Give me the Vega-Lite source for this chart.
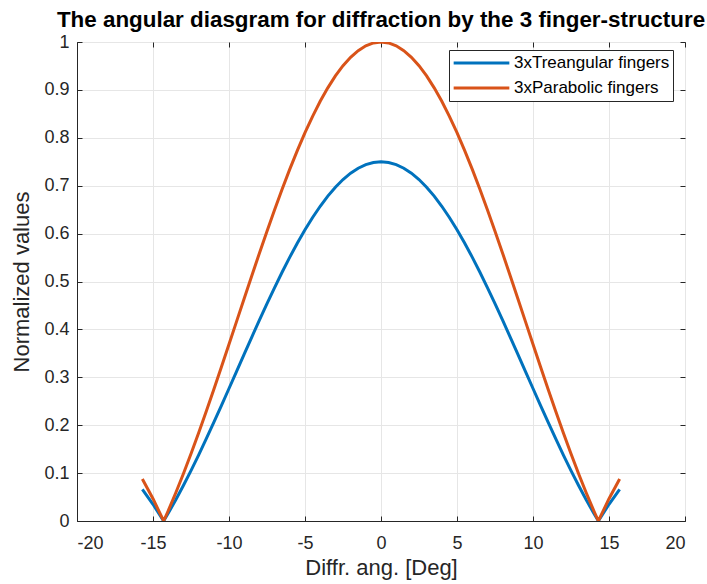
{
  "$schema": "https://vega.github.io/schema/vega-lite/v6.json",
  "width": 608,
  "height": 479,
  "autosize": {"type": "none"},
  "padding": {"left": 77, "top": 42, "right": 22, "bottom": 63},
  "background": "white",
  "config": {
    "font": "Liberation Sans",
    "view": {"stroke": "#262626", "strokeWidth": 1},
    "axis": {
      "domainColor": "#262626",
      "tickColor": "#262626",
      "labelColor": "#262626",
      "titleColor": "#262626",
      "gridColor": "#e6e6e6",
      "labelFont": "Liberation Sans",
      "titleFont": "Liberation Sans",
      "labelFontSize": 18,
      "titleFontSize": 22,
      "titleFontWeight": "normal"
    }
  },
  "title": {
    "text": "The angular diasgram for diffraction by the 3 finger-structure",
    "font": "Liberation Sans",
    "fontSize": 22.4,
    "fontWeight": "bold",
    "color": "#000000",
    "anchor": "middle",
    "offset": 2
  },
  "data": {
    "values": [
      {"x": -15.7, "y": 0.0658, "s": "3xTreangular fingers"},
      {"x": -15, "y": 0.0349, "s": "3xTreangular fingers"},
      {"x": -14.3, "y": 0, "s": "3xTreangular fingers"},
      {"x": -14, "y": 0.0161, "s": "3xTreangular fingers"},
      {"x": -13.5, "y": 0.0442, "s": "3xTreangular fingers"},
      {"x": -13, "y": 0.074, "s": "3xTreangular fingers"},
      {"x": -12.5, "y": 0.1052, "s": "3xTreangular fingers"},
      {"x": -12, "y": 0.1377, "s": "3xTreangular fingers"},
      {"x": -11.5, "y": 0.1713, "s": "3xTreangular fingers"},
      {"x": -11, "y": 0.2058, "s": "3xTreangular fingers"},
      {"x": -10.5, "y": 0.241, "s": "3xTreangular fingers"},
      {"x": -10, "y": 0.2766, "s": "3xTreangular fingers"},
      {"x": -9.5, "y": 0.3125, "s": "3xTreangular fingers"},
      {"x": -9, "y": 0.3484, "s": "3xTreangular fingers"},
      {"x": -8.5, "y": 0.3841, "s": "3xTreangular fingers"},
      {"x": -8, "y": 0.4193, "s": "3xTreangular fingers"},
      {"x": -7.5, "y": 0.4538, "s": "3xTreangular fingers"},
      {"x": -7, "y": 0.4874, "s": "3xTreangular fingers"},
      {"x": -6.5, "y": 0.5199, "s": "3xTreangular fingers"},
      {"x": -6, "y": 0.5509, "s": "3xTreangular fingers"},
      {"x": -5.5, "y": 0.5804, "s": "3xTreangular fingers"},
      {"x": -5, "y": 0.608, "s": "3xTreangular fingers"},
      {"x": -4.5, "y": 0.6337, "s": "3xTreangular fingers"},
      {"x": -4, "y": 0.6571, "s": "3xTreangular fingers"},
      {"x": -3.5, "y": 0.6782, "s": "3xTreangular fingers"},
      {"x": -3, "y": 0.6969, "s": "3xTreangular fingers"},
      {"x": -2.5, "y": 0.7129, "s": "3xTreangular fingers"},
      {"x": -2, "y": 0.7261, "s": "3xTreangular fingers"},
      {"x": -1.5, "y": 0.7365, "s": "3xTreangular fingers"},
      {"x": -1, "y": 0.744, "s": "3xTreangular fingers"},
      {"x": -0.5, "y": 0.7485, "s": "3xTreangular fingers"},
      {"x": 0, "y": 0.75, "s": "3xTreangular fingers"},
      {"x": 0.5, "y": 0.7485, "s": "3xTreangular fingers"},
      {"x": 1, "y": 0.744, "s": "3xTreangular fingers"},
      {"x": 1.5, "y": 0.7365, "s": "3xTreangular fingers"},
      {"x": 2, "y": 0.7261, "s": "3xTreangular fingers"},
      {"x": 2.5, "y": 0.7129, "s": "3xTreangular fingers"},
      {"x": 3, "y": 0.6969, "s": "3xTreangular fingers"},
      {"x": 3.5, "y": 0.6782, "s": "3xTreangular fingers"},
      {"x": 4, "y": 0.6571, "s": "3xTreangular fingers"},
      {"x": 4.5, "y": 0.6337, "s": "3xTreangular fingers"},
      {"x": 5, "y": 0.608, "s": "3xTreangular fingers"},
      {"x": 5.5, "y": 0.5804, "s": "3xTreangular fingers"},
      {"x": 6, "y": 0.5509, "s": "3xTreangular fingers"},
      {"x": 6.5, "y": 0.5199, "s": "3xTreangular fingers"},
      {"x": 7, "y": 0.4874, "s": "3xTreangular fingers"},
      {"x": 7.5, "y": 0.4538, "s": "3xTreangular fingers"},
      {"x": 8, "y": 0.4193, "s": "3xTreangular fingers"},
      {"x": 8.5, "y": 0.3841, "s": "3xTreangular fingers"},
      {"x": 9, "y": 0.3484, "s": "3xTreangular fingers"},
      {"x": 9.5, "y": 0.3125, "s": "3xTreangular fingers"},
      {"x": 10, "y": 0.2766, "s": "3xTreangular fingers"},
      {"x": 10.5, "y": 0.241, "s": "3xTreangular fingers"},
      {"x": 11, "y": 0.2058, "s": "3xTreangular fingers"},
      {"x": 11.5, "y": 0.1713, "s": "3xTreangular fingers"},
      {"x": 12, "y": 0.1377, "s": "3xTreangular fingers"},
      {"x": 12.5, "y": 0.1052, "s": "3xTreangular fingers"},
      {"x": 13, "y": 0.074, "s": "3xTreangular fingers"},
      {"x": 13.5, "y": 0.0442, "s": "3xTreangular fingers"},
      {"x": 14, "y": 0.0161, "s": "3xTreangular fingers"},
      {"x": 14.3, "y": 0, "s": "3xTreangular fingers"},
      {"x": 15, "y": 0.0349, "s": "3xTreangular fingers"},
      {"x": 15.7, "y": 0.0658, "s": "3xTreangular fingers"},
      {"x": -15.7, "y": 0.0878, "s": "3xParabolic fingers"},
      {"x": -15, "y": 0.0465, "s": "3xParabolic fingers"},
      {"x": -14.3, "y": 0, "s": "3xParabolic fingers"},
      {"x": -14, "y": 0.0214, "s": "3xParabolic fingers"},
      {"x": -13.5, "y": 0.0589, "s": "3xParabolic fingers"},
      {"x": -13, "y": 0.0986, "s": "3xParabolic fingers"},
      {"x": -12.5, "y": 0.1403, "s": "3xParabolic fingers"},
      {"x": -12, "y": 0.1836, "s": "3xParabolic fingers"},
      {"x": -11.5, "y": 0.2284, "s": "3xParabolic fingers"},
      {"x": -11, "y": 0.2744, "s": "3xParabolic fingers"},
      {"x": -10.5, "y": 0.3213, "s": "3xParabolic fingers"},
      {"x": -10, "y": 0.3688, "s": "3xParabolic fingers"},
      {"x": -9.5, "y": 0.4167, "s": "3xParabolic fingers"},
      {"x": -9, "y": 0.4646, "s": "3xParabolic fingers"},
      {"x": -8.5, "y": 0.5121, "s": "3xParabolic fingers"},
      {"x": -8, "y": 0.5591, "s": "3xParabolic fingers"},
      {"x": -7.5, "y": 0.6051, "s": "3xParabolic fingers"},
      {"x": -7, "y": 0.6499, "s": "3xParabolic fingers"},
      {"x": -6.5, "y": 0.6932, "s": "3xParabolic fingers"},
      {"x": -6, "y": 0.7346, "s": "3xParabolic fingers"},
      {"x": -5.5, "y": 0.7738, "s": "3xParabolic fingers"},
      {"x": -5, "y": 0.8107, "s": "3xParabolic fingers"},
      {"x": -4.5, "y": 0.8449, "s": "3xParabolic fingers"},
      {"x": -4, "y": 0.8762, "s": "3xParabolic fingers"},
      {"x": -3.5, "y": 0.9043, "s": "3xParabolic fingers"},
      {"x": -3, "y": 0.9292, "s": "3xParabolic fingers"},
      {"x": -2.5, "y": 0.9505, "s": "3xParabolic fingers"},
      {"x": -2, "y": 0.9681, "s": "3xParabolic fingers"},
      {"x": -1.5, "y": 0.982, "s": "3xParabolic fingers"},
      {"x": -1, "y": 0.992, "s": "3xParabolic fingers"},
      {"x": -0.5, "y": 0.998, "s": "3xParabolic fingers"},
      {"x": 0, "y": 1, "s": "3xParabolic fingers"},
      {"x": 0.5, "y": 0.998, "s": "3xParabolic fingers"},
      {"x": 1, "y": 0.992, "s": "3xParabolic fingers"},
      {"x": 1.5, "y": 0.982, "s": "3xParabolic fingers"},
      {"x": 2, "y": 0.9681, "s": "3xParabolic fingers"},
      {"x": 2.5, "y": 0.9505, "s": "3xParabolic fingers"},
      {"x": 3, "y": 0.9292, "s": "3xParabolic fingers"},
      {"x": 3.5, "y": 0.9043, "s": "3xParabolic fingers"},
      {"x": 4, "y": 0.8762, "s": "3xParabolic fingers"},
      {"x": 4.5, "y": 0.8449, "s": "3xParabolic fingers"},
      {"x": 5, "y": 0.8107, "s": "3xParabolic fingers"},
      {"x": 5.5, "y": 0.7738, "s": "3xParabolic fingers"},
      {"x": 6, "y": 0.7346, "s": "3xParabolic fingers"},
      {"x": 6.5, "y": 0.6932, "s": "3xParabolic fingers"},
      {"x": 7, "y": 0.6499, "s": "3xParabolic fingers"},
      {"x": 7.5, "y": 0.6051, "s": "3xParabolic fingers"},
      {"x": 8, "y": 0.5591, "s": "3xParabolic fingers"},
      {"x": 8.5, "y": 0.5121, "s": "3xParabolic fingers"},
      {"x": 9, "y": 0.4646, "s": "3xParabolic fingers"},
      {"x": 9.5, "y": 0.4167, "s": "3xParabolic fingers"},
      {"x": 10, "y": 0.3688, "s": "3xParabolic fingers"},
      {"x": 10.5, "y": 0.3213, "s": "3xParabolic fingers"},
      {"x": 11, "y": 0.2744, "s": "3xParabolic fingers"},
      {"x": 11.5, "y": 0.2284, "s": "3xParabolic fingers"},
      {"x": 12, "y": 0.1836, "s": "3xParabolic fingers"},
      {"x": 12.5, "y": 0.1403, "s": "3xParabolic fingers"},
      {"x": 13, "y": 0.0986, "s": "3xParabolic fingers"},
      {"x": 13.5, "y": 0.0589, "s": "3xParabolic fingers"},
      {"x": 14, "y": 0.0214, "s": "3xParabolic fingers"},
      {"x": 14.3, "y": 0, "s": "3xParabolic fingers"},
      {"x": 15, "y": 0.0465, "s": "3xParabolic fingers"},
      {"x": 15.7, "y": 0.0878, "s": "3xParabolic fingers"}
    ]
  },
  "layer": [
    {
      "mark": {"type": "line", "strokeWidth": 3, "clip": true},
      "encoding": {
        "x": {
          "field": "x", "type": "quantitative",
          "scale": {"domain": [-20, 20], "nice": false},
          "axis": {"title": "Diffr. ang. [Deg]", "values": [-20, -15, -10, -5, 0, 5, 10, 15, 20], "format": "~g", "labelExpr": "replace(datum.label, '−', '-')", "tickSize": -5, "labelPadding": 18, "titlePadding": 5, "grid": true}
        },
        "y": {
          "field": "y", "type": "quantitative",
          "scale": {"domain": [0, 1], "nice": false},
          "axis": {"title": "Normalized values", "values": [0, 0.1, 0.2, 0.3, 0.4, 0.5, 0.6, 0.7, 0.8, 0.9, 1], "format": "~g", "tickSize": -5, "labelPadding": 13, "titlePadding": 10, "grid": true}
        },
        "color": {
          "field": "s", "type": "nominal",
          "scale": {"domain": ["3xTreangular fingers", "3xParabolic fingers"], "range": ["#0072BD", "#D95319"]},
          "legend": {
            "title": null,
            "orient": "none",
            "legendX": 372,
            "legendY": 8,
            "symbolType": "stroke",
            "symbolSize": 3100,
            "symbolStrokeWidth": 3,
            "clipHeight": 20,
            "labelFontSize": 17,
            "labelOffset": 3,
            "labelColor": "#000000",
            "labelFont": "Liberation Sans",
            "strokeColor": "#262626",
            "fillColor": "white",
            "padding": 3,
            "rowPadding": 5
          }
        }
      }
    },
    {
      "mark": {"type": "line", "opacity": 0},
      "encoding": {
        "x": {"field": "x", "type": "quantitative", "axis": {"orient": "top", "labels": false, "title": null, "grid": false, "values": [-20, -15, -10, -5, 0, 5, 10, 15, 20], "tickSize": -5, "domain": false}},
        "y": {"field": "y", "type": "quantitative", "axis": {"orient": "right", "labels": false, "title": null, "grid": false, "values": [0, 0.1, 0.2, 0.3, 0.4, 0.5, 0.6, 0.7, 0.8, 0.9, 1], "tickSize": -5, "domain": false}},
        "detail": {"field": "s"}
      }
    }
  ],
  "resolve": {"axis": {"x": "independent", "y": "independent"}}
}
